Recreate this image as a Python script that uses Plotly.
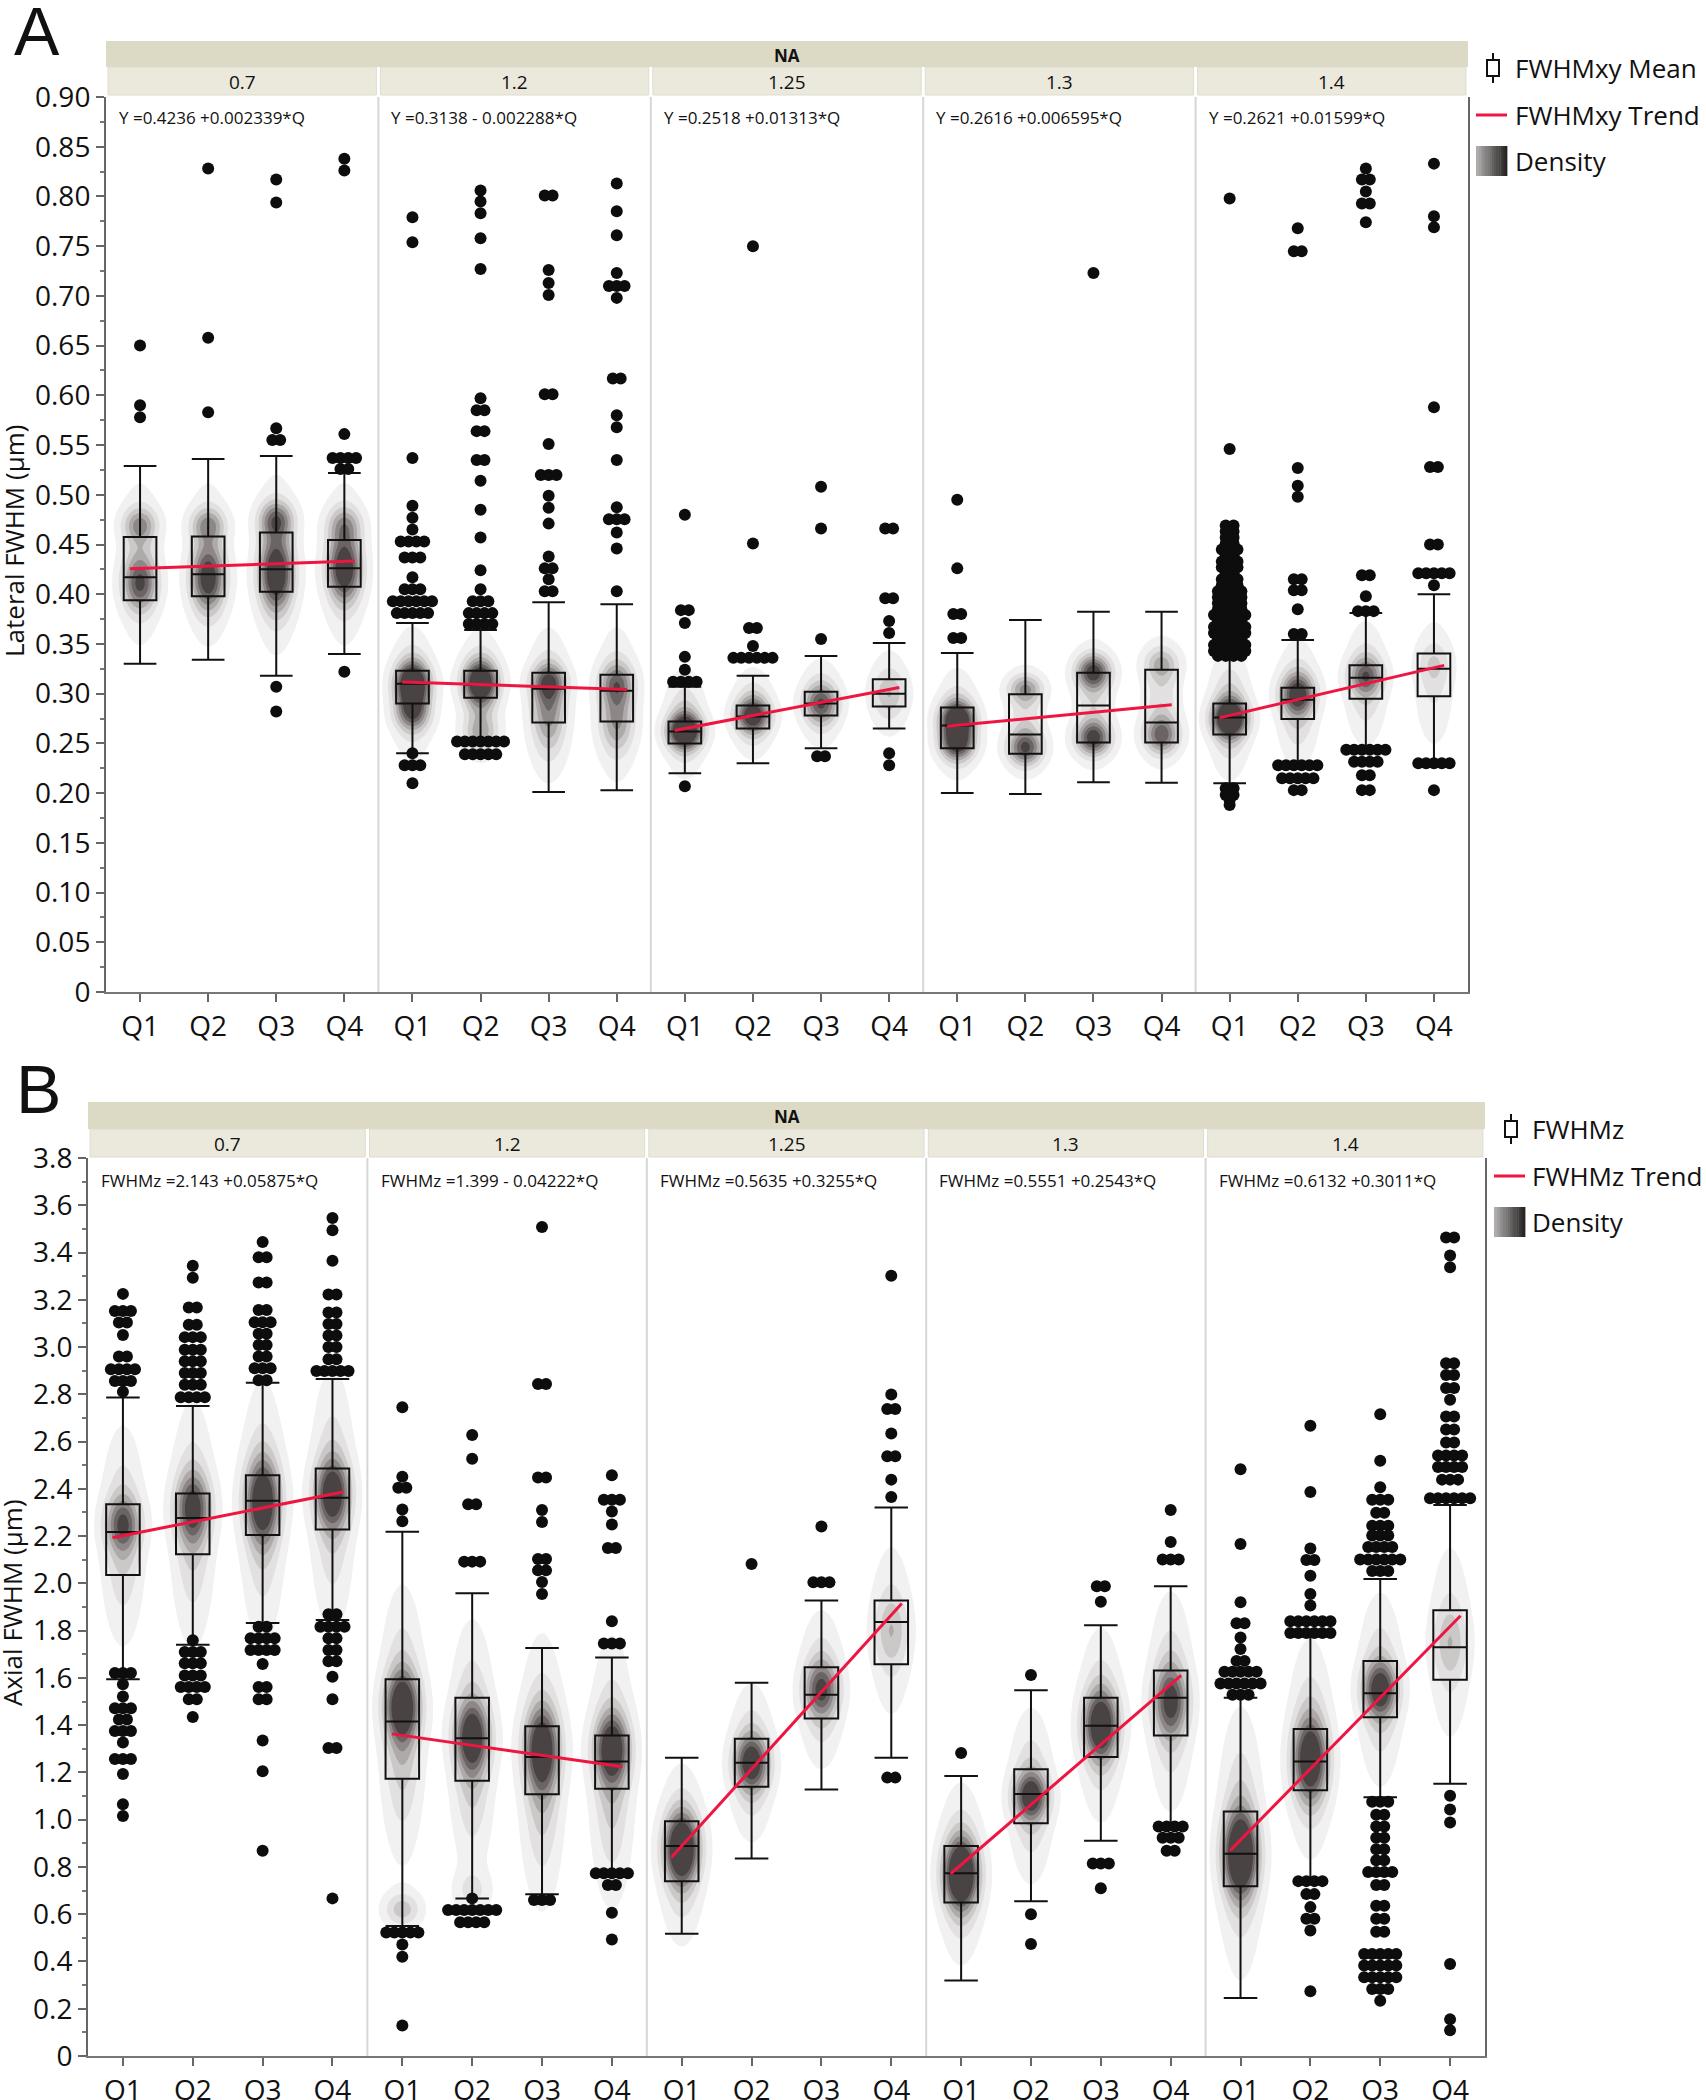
import numpy as np
import plotly.graph_objects as go

# ---------------- data ----------------
NA_LEVELS = ["0.7", "1.2", "1.25", "1.3", "1.4"]
QUARTILES = ["Q1", "Q2", "Q3", "Q4"]

# Panel A : Lateral FWHM (um), groups ordered NA x quartile
A_LOWER_Q = [0.394, 0.398, 0.4025, 0.4075, 0.290, 0.296, 0.271, 0.272, 0.250, 0.265, 0.278, 0.287,
             0.245, 0.2395, 0.251, 0.251, 0.259, 0.2745, 0.295, 0.2975]
A_MEDIAN = [0.417, 0.420, 0.425, 0.426, 0.310, 0.309, 0.305, 0.303, 0.262, 0.277, 0.290, 0.300,
            0.268, 0.259, 0.288, 0.271, 0.276, 0.294, 0.316, 0.325]
A_UPPER_Q = [0.4575, 0.458, 0.462, 0.4546, 0.323, 0.323, 0.321, 0.319, 0.272, 0.288, 0.302, 0.3145,
             0.286, 0.2995, 0.321, 0.324, 0.290, 0.306, 0.3286, 0.3405]
A_WHISK_LO = [0.330, 0.334, 0.318, 0.340, 0.240, 0.250, 0.201, 0.203, 0.220, 0.230, 0.245, 0.265,
              0.200, 0.199, 0.211, 0.2105, 0.210, 0.228, 0.2447, 0.230]
A_WHISK_HI = [0.529, 0.536, 0.539, 0.522, 0.371, 0.364, 0.392, 0.390, 0.307, 0.318, 0.338, 0.351,
              0.341, 0.374, 0.3825, 0.3825, 0.3385, 0.354, 0.381, 0.400]
A_INTERCEPT = [0.4236, 0.3138, 0.2518, 0.2616, 0.2621]
A_SLOPE = [0.002339, -0.002288, 0.01313, 0.006595, 0.01599]
A_EQUATIONS = ["Y =0.4236 +0.002339*Q", "Y =0.3138 - 0.002288*Q", "Y =0.2518 +0.01313*Q",
               "Y =0.2616 +0.006595*Q", "Y =0.2621 +0.01599*Q"]
# outliers: (value, number of dots at that value)
A_OUTLIERS = [
    [(0.65, 1), (0.59, 1), (0.578, 1)],
    [(0.828, 1), (0.658, 1), (0.583, 1)],
    [(0.817, 1), (0.794, 1), (0.567, 1), (0.555, 2), (0.307, 1), (0.282, 1)],
    [(0.838, 1), (0.826, 1), (0.561, 1), (0.537, 4), (0.526, 2), (0.322, 1)],
    [(0.779, 1), (0.754, 1), (0.537, 1), (0.489, 1), (0.477, 1), (0.465, 1), (0.453, 4), (0.437, 3),
     (0.417, 1), (0.405, 3), (0.393, 6), (0.381, 5), (0.24, 1), (0.228, 3), (0.21, 1)],
    [(0.806, 1), (0.795, 1), (0.783, 1), (0.758, 1), (0.727, 1), (0.597, 1), (0.585, 2), (0.564, 2),
     (0.535, 2), (0.514, 1), (0.485, 1), (0.457, 1), (0.424, 1), (0.405, 1), (0.393, 3), (0.381, 4),
     (0.370, 4), (0.252, 7), (0.239, 5)],
    [(0.801, 2), (0.726, 1), (0.713, 1), (0.701, 1), (0.601, 2), (0.551, 1), (0.52, 3), (0.499, 1),
     (0.487, 1), (0.471, 1), (0.438, 1), (0.426, 2), (0.415, 1), (0.403, 2)],
    [(0.813, 1), (0.785, 1), (0.761, 1), (0.723, 1), (0.710, 3), (0.698, 1), (0.617, 2), (0.580, 1),
     (0.568, 1), (0.535, 1), (0.4875, 1), (0.4755, 3), (0.462, 1), (0.446, 1), (0.403, 1)],
    [(0.480, 1), (0.384, 2), (0.371, 1), (0.337, 1), (0.324, 1), (0.312, 4), (0.207, 1)],
    [(0.750, 1), (0.451, 1), (0.366, 2), (0.348, 1), (0.336, 6)],
    [(0.508, 1), (0.466, 1), (0.355, 1), (0.237, 2)],
    [(0.466, 2), (0.396, 2), (0.373, 1), (0.361, 1), (0.240, 1), (0.228, 1)],
    [(0.495, 1), (0.426, 1), (0.380, 2), (0.356, 2)],
    [],
    [(0.723, 1)],
    [],
    [(0.798, 1), (0.546, 1), (0.469, 2), (0.463, 2), (0.457, 2), (0.451, 2), (0.445, 3), (0.439, 2),
     (0.433, 3), (0.427, 3), (0.421, 2), (0.415, 3), (0.409, 3), (0.403, 4), (0.397, 4), (0.391, 4),
     (0.385, 4), (0.379, 5), (0.373, 4), (0.367, 5), (0.361, 5), (0.355, 4), (0.349, 5), (0.343, 5),
     (0.338, 4), (0.205, 2), (0.198, 2), (0.193, 1), (0.188, 1)],
    [(0.768, 1), (0.745, 2), (0.527, 1), (0.509, 1), (0.498, 1), (0.415, 2), (0.404, 2), (0.385, 1),
     (0.360, 2), (0.228, 6), (0.215, 5), (0.203, 2)],
    [(0.828, 1), (0.817, 2), (0.805, 1), (0.793, 2), (0.774, 1), (0.419, 2), (0.398, 1), (0.383, 3),
     (0.2436, 6), (0.2315, 4), (0.218, 2), (0.203, 2)],
    [(0.833, 1), (0.780, 1), (0.769, 1), (0.588, 1), (0.528, 2), (0.450, 2), (0.421, 5), (0.409, 1),
     (0.230, 5), (0.203, 1)],
]
# density blobs: (centre, spread, strength)
A_DENSITY = [
    [(0.41, 0.018, 0.6), (0.47, 0.012, 0.45), (0.43, 0.045, 0.35)],
    [(0.415, 0.022, 0.7), (0.47, 0.012, 0.45), (0.43, 0.045, 0.35)],
    [(0.42, 0.025, 0.8), (0.475, 0.013, 0.6), (0.43, 0.05, 0.35)],
    [(0.425, 0.022, 0.75), (0.47, 0.013, 0.4), (0.43, 0.045, 0.35)],
    [(0.31, 0.015, 0.95), (0.28, 0.012, 0.5), (0.30, 0.035, 0.45)],
    [(0.312, 0.015, 0.9), (0.26, 0.012, 0.35), (0.30, 0.035, 0.4)],
    [(0.312, 0.012, 0.5), (0.285, 0.03, 0.45), (0.29, 0.045, 0.25)],
    [(0.31, 0.015, 0.55), (0.27, 0.02, 0.35), (0.29, 0.045, 0.3)],
    [(0.262, 0.012, 1.0), (0.27, 0.03, 0.4)],
    [(0.278, 0.012, 0.7), (0.28, 0.025, 0.4)],
    [(0.29, 0.013, 0.55), (0.29, 0.025, 0.35)],
    [(0.30, 0.015, 0.25), (0.30, 0.028, 0.22)],
    [(0.275, 0.012, 0.85), (0.25, 0.012, 0.75), (0.27, 0.03, 0.4)],
    [(0.305, 0.01, 0.5), (0.245, 0.012, 0.7), (0.27, 0.03, 0.3)],
    [(0.322, 0.012, 0.8), (0.255, 0.012, 0.8), (0.29, 0.035, 0.3)],
    [(0.33, 0.012, 0.4), (0.258, 0.013, 0.65), (0.29, 0.035, 0.3)],
    [(0.275, 0.013, 1.0), (0.28, 0.035, 0.45)],
    [(0.30, 0.014, 0.7), (0.29, 0.035, 0.4)],
    [(0.318, 0.013, 0.55), (0.31, 0.035, 0.35)],
    [(0.33, 0.015, 0.18), (0.31, 0.04, 0.22)],
]

# Panel B : Axial FWHM (um)
B_LOWER_Q = [2.035, 2.123, 2.205, 2.228, 1.173, 1.165, 1.108, 1.131, 0.740, 1.139, 1.428, 1.658,
             0.650, 0.985, 1.265, 1.356, 0.718, 1.125, 1.433, 1.592]
B_MEDIAN = [2.217, 2.277, 2.350, 2.362, 1.416, 1.345, 1.265, 1.246, 0.889, 1.241, 1.529, 1.837,
            0.773, 1.109, 1.397, 1.516, 0.856, 1.246, 1.535, 1.730]
B_UPPER_Q = [2.335, 2.380, 2.458, 2.486, 1.594, 1.516, 1.395, 1.356, 0.993, 1.343, 1.645, 1.928,
             0.889, 1.213, 1.516, 1.631, 1.035, 1.384, 1.672, 1.886]
B_WHISK_LO = [1.594, 1.740, 1.832, 1.845, 0.550, 0.667, 0.684, 0.773, 0.517, 0.836, 1.128, 1.262,
              0.320, 0.655, 0.911, 0.971, 0.245, 0.740, 1.095, 1.152]
B_WHISK_HI = [2.786, 2.751, 2.849, 2.865, 2.218, 1.958, 1.726, 1.686, 1.262, 1.579, 1.928, 2.321,
              1.185, 1.548, 1.823, 1.988, 1.516, 1.776, 2.018, 2.332]
B_INTERCEPT = [2.143, 1.399, 0.5635, 0.5551, 0.6132]
B_SLOPE = [0.05875, -0.04222, 0.3255, 0.2543, 0.3011]
B_EQUATIONS = ["FWHMz =2.143 +0.05875*Q", "FWHMz =1.399 - 0.04222*Q", "FWHMz =0.5635 +0.3255*Q",
               "FWHMz =0.5551 +0.2543*Q", "FWHMz =0.6132 +0.3011*Q"]
B_OUTLIERS = [
    [(3.225, 1), (3.153, 3), (3.104, 2), (3.051, 1), (2.96, 2), (2.906, 4), (2.856, 3), (2.811, 1),
     (1.621, 3), (1.573, 1), (1.521, 1), (1.472, 3), (1.424, 2), (1.375, 3), (1.327, 1), (1.257, 3),
     (1.193, 1), (1.065, 1), (1.016, 1)],
    [(3.344, 1), (3.293, 1), (3.167, 2), (3.094, 2), (3.042, 3), (2.989, 3), (2.94, 3), (2.89, 3),
     (2.84, 3), (2.788, 4), (1.759, 1), (1.71, 3), (1.662, 3), (1.61, 3), (1.561, 4), (1.51, 2), (1.435, 1)],
    [(3.445, 1), (3.38, 2), (3.273, 2), (3.157, 2), (3.105, 3), (3.056, 2), (3.009, 2), (2.96, 2),
     (2.91, 3), (2.86, 2), (1.816, 2), (1.768, 4), (1.718, 4), (1.659, 1), (1.561, 2), (1.51, 2),
     (1.335, 1), (1.205, 1), (0.869, 1)],
    [(3.546, 1), (3.494, 1), (3.365, 1), (3.222, 2), (3.146, 2), (3.098, 2), (3.049, 2), (3.0, 2),
     (2.948, 2), (2.899, 5), (1.869, 2), (1.816, 4), (1.768, 2), (1.718, 2), (1.67, 2), (1.605, 1),
     (1.51, 1), (1.303, 2), (0.667, 1)],
    [(2.745, 1), (2.451, 1), (2.405, 2), (2.313, 1), (2.263, 1), (0.523, 5), (0.472, 1), (0.42, 1), (0.129, 1)],
    [(2.628, 1), (2.527, 1), (2.335, 2), (2.092, 3), (0.667, 1), (0.618, 7), (0.566, 4)],
    [(3.508, 1), (2.844, 2), (2.448, 2), (2.31, 1), (2.26, 1), (2.103, 2), (2.055, 2), (2.006, 1),
     (1.955, 1), (0.66, 3)],
    [(2.458, 1), (2.354, 3), (2.304, 1), (2.249, 1), (2.150, 2), (1.840, 1), (1.746, 3), (0.773, 5),
     (0.724, 2), (0.606, 1), (0.493, 1)],
    [],
    [(2.082, 1)],
    [(2.241, 1), (2.005, 3)],
    [(3.302, 1), (2.799, 1), (2.738, 2), (2.634, 1), (2.538, 2), (2.439, 1), (2.365, 1), (1.178, 2)],
    [(1.282, 1)],
    [(1.612, 1), (0.600, 1), (0.474, 1)],
    [(1.988, 2), (1.922, 1), (0.815, 3), (0.710, 1)],
    [(2.31, 1), (2.175, 1), (2.101, 3), (0.971, 4), (0.924, 3), (0.869, 2)],
    [(2.483, 1), (2.167, 1), (1.92, 1), (1.831, 2), (1.771, 1), (1.722, 1), (1.672, 2), (1.626, 5),
     (1.576, 6), (1.529, 3)],
    [(2.667, 1), (2.387, 1), (2.148, 1), (2.099, 2), (2.032, 1), (1.955, 1), (1.906, 1), (1.84, 6),
     (1.79, 6), (0.74, 4), (0.685, 2), (0.63, 1), (0.581, 2), (0.531, 1), (0.274, 1)],
    [(2.716, 1), (2.519, 1), (2.407, 1), (2.354, 3), (2.299, 2), (2.244, 3), (2.203, 3), (2.154, 4),
     (2.101, 6), (2.052, 3), (1.076, 3), (1.021, 2), (0.971, 2), (0.924, 2), (0.875, 2), (0.828, 2),
     (0.779, 4), (0.724, 2), (0.636, 2), (0.581, 2), (0.526, 2), (0.432, 5), (0.383, 5), (0.333, 5),
     (0.284, 3), (0.234, 1)],
    [(3.464, 2), (3.387, 1), (3.338, 1), (2.931, 2), (2.882, 2), (2.827, 2), (2.777, 1), (2.706, 2),
     (2.651, 2), (2.596, 2), (2.541, 4), (2.492, 4), (2.439, 3), (2.36, 6), (1.101, 1), (1.043, 1),
     (0.988, 1), (0.389, 1), (0.155, 1), (0.109, 1)],
]
B_DENSITY = [
    [(2.25, 0.08, 0.55), (2.2, 0.25, 0.4)],
    [(2.32, 0.1, 0.65), (2.25, 0.28, 0.4)],
    [(2.35, 0.12, 0.8), (2.3, 0.3, 0.4)],
    [(2.38, 0.1, 0.75), (2.35, 0.3, 0.4)],
    [(1.48, 0.1, 0.75), (1.4, 0.3, 0.5), (0.62, 0.05, 0.4)],
    [(1.35, 0.1, 0.7), (1.3, 0.28, 0.48), (0.7, 0.06, 0.22)],
    [(1.3, 0.12, 0.75), (1.2, 0.3, 0.48)],
    [(1.3, 0.1, 0.78), (1.2, 0.3, 0.45)],
    [(0.88, 0.1, 0.9), (0.85, 0.2, 0.45)],
    [(1.24, 0.08, 0.7), (1.24, 0.18, 0.4)],
    [(1.55, 0.08, 0.55), (1.55, 0.18, 0.4)],
    [(1.8, 0.1, 0.22), (1.8, 0.22, 0.25)],
    [(0.77, 0.1, 0.95), (0.77, 0.2, 0.45)],
    [(1.1, 0.07, 0.7), (1.1, 0.2, 0.4)],
    [(1.4, 0.1, 0.8), (1.4, 0.22, 0.4)],
    [(1.5, 0.1, 0.6), (1.5, 0.25, 0.4)],
    [(0.85, 0.12, 0.95), (0.9, 0.3, 0.45)],
    [(1.25, 0.12, 0.8), (1.3, 0.25, 0.4)],
    [(1.55, 0.08, 0.7), (1.55, 0.22, 0.4)],
    [(1.75, 0.1, 0.22), (1.75, 0.25, 0.25)],
]

A_TICKS = [round(0.05 * i, 2) for i in range(19)]
B_TICKS = [round(0.2 * i, 1) for i in range(20)]

# ---------------- style ----------------
W, H = 1706, 2100
FONT = "Open Sans"
RED = "#ee1540"
DOT_STEP = 0.115
DENS_SX = 0.18
DENS_COLORS = ["rgba(255,255,255,0)", "#f1f1f1", "#e2e0e0", "#cbc8c8", "#aeaaaa",
               "#8d8787", "#6b6464", "#4a4343"]
DENS_SCALE = [[k / 7, c] for k, c in enumerate(DENS_COLORS)]


def px(x):
    return x / W


def py(y):
    return 1 - y / H


n_fac, n_q = len(NA_LEVELS), len(QUARTILES)
positions = [f * n_q + q + 1 for f in range(n_fac) for q in range(n_q)]

fig = go.Figure()


def density_trace(dens, ylo, yhi, xa, ya):
    xs = np.linspace(0.5, n_fac * n_q + 0.5, 481)
    ys = np.linspace(ylo, yhi, 320)
    Z = np.zeros((ys.size, xs.size))
    for g, blobs in enumerate(dens):
        gx = np.exp(-0.5 * ((xs - positions[g]) / DENS_SX) ** 2)
        for c, s, w in blobs:
            Z += w * np.outer(np.exp(-0.5 * ((ys - c) / s) ** 2), gx)
    return go.Contour(x=np.round(xs, 4), y=np.round(ys, 4), z=np.round(Z, 3), xaxis=xa, yaxis=ya,
                      contours=dict(start=0.07, end=0.85, size=0.13, coloring="fill", showlines=False),
                      colorscale=DENS_SCALE, showscale=False, line=dict(width=0),
                      hoverinfo="skip", showlegend=False)


def add_panel(lq, med, uq, wlo, whi, icpt, slope, outl, dens, ylo, yhi, xa, ya):
    fig.add_trace(density_trace(dens, ylo, yhi, xa, ya))
    fig.add_trace(go.Box(x=positions, q1=lq, median=med, q3=uq, lowerfence=wlo, upperfence=whi,
                         width=0.48, whiskerwidth=1, fillcolor="rgba(255,255,255,0)",
                         line=dict(color="#111111", width=2), boxpoints=False,
                         showlegend=False, hoverinfo="skip", xaxis=xa, yaxis=ya))
    for f in range(n_fac):
        qs = np.array([0.85, 4.15])
        fig.add_trace(go.Scatter(x=f * n_q + qs, y=icpt[f] + slope[f] * qs, mode="lines",
                                 line=dict(color=RED, width=3), showlegend=False,
                                 hoverinfo="skip", xaxis=xa, yaxis=ya))
    dx, dy = [], []
    for g, pts in enumerate(outl):
        for v, n in pts:
            for i in range(n):
                dx.append(positions[g] + (i - (n - 1) / 2) * DOT_STEP)
                dy.append(v)
    fig.add_trace(go.Scatter(x=dx, y=dy, mode="markers",
                             marker=dict(size=12, color="#0d0d0d", line=dict(width=0)),
                             showlegend=False, hoverinfo="skip", xaxis=xa, yaxis=ya))


add_panel(A_LOWER_Q, A_MEDIAN, A_UPPER_Q, A_WHISK_LO, A_WHISK_HI, A_INTERCEPT, A_SLOPE,
          A_OUTLIERS, A_DENSITY, 0.15, 0.62, "x", "y")
add_panel(B_LOWER_Q, B_MEDIAN, B_UPPER_Q, B_WHISK_LO, B_WHISK_HI, B_INTERCEPT, B_SLOPE,
          B_OUTLIERS, B_DENSITY, 0.05, 3.2, "x2", "y2")

tickfont = dict(family=FONT, size=28, color="#111111")
xcommon = dict(range=[0.5, n_fac * n_q + 0.5], tickmode="array", tickvals=positions,
               ticktext=QUARTILES * n_fac, ticks="outside", ticklen=8, tickwidth=1.5,
               tickcolor="#666666", showline=True, linecolor="#777777", linewidth=2,
               showgrid=False, zeroline=False, tickfont=tickfont, fixedrange=True,
               automargin=False)


def ycommon(ticks, labels, minor_vals, rng):
    return dict(range=rng, tickmode="array", tickvals=ticks, ticktext=labels, ticks="outside",
                ticklen=8, tickwidth=1.5, tickcolor="#666666", showline=True, mirror=True,
                linecolor="#666666", linewidth=2, showgrid=False, zeroline=False,
                tickfont=tickfont, fixedrange=True, automargin=False,
                minor=dict(tickvals=minor_vals, ticks="outside", ticklen=4, tickcolor="#777777",
                           showgrid=False))


A_LABELS = ["0"] + ["%.2f" % t for t in A_TICKS[1:]]
B_LABELS = ["0"] + ["%.1f" % t for t in B_TICKS[1:]]
A_MINOR = [round(t + 0.025, 3) for t in A_TICKS[:-1]]
B_MINOR = [round(t + 0.1, 2) for t in B_TICKS[:-1]]

fig.update_layout(
    width=W, height=H, margin=dict(l=0, r=0, t=0, b=0, pad=0, autoexpand=False),
    paper_bgcolor="white", plot_bgcolor="white", showlegend=False,
    xaxis=dict(domain=[px(106), px(1468)], anchor="y", **xcommon),
    yaxis=dict(domain=[py(992), py(97)], anchor="x",
               **ycommon(A_TICKS, A_LABELS, A_MINOR, [0, 0.9])),
    xaxis2=dict(domain=[px(88), px(1485)], anchor="y2", **xcommon),
    yaxis2=dict(domain=[py(2056), py(1158)], anchor="x2",
                **ycommon(B_TICKS, B_LABELS, B_MINOR, [0, 3.8])),
)

shapes, annos = [], []


def text(xref, x, y, s, size, xanchor="center", angle=0, family=FONT):
    annos.append(dict(xref=xref, yref="paper", x=x, y=py(y), text=s, showarrow=False,
                      xanchor=xanchor, yanchor="middle", textangle=angle,
                      font=dict(family=family, size=size, color="#111")))


def headers(xref, top, mid, bot, eq_y, equations, xpref):
    shapes.append(dict(type="rect", xref=xref, yref="paper", x0=0.5, x1=n_fac * n_q + 0.5,
                       y0=py(mid), y1=py(top), fillcolor="#dcd9c5", line=dict(width=0), layer="above"))
    text(xref, (n_fac * n_q + 1) / 2, (top + mid) / 2 + 1, "<b>NA</b>", 17)
    for f in range(n_fac):
        x0, x1 = f * n_q + 0.5, f * n_q + n_q + 0.5
        shapes.append(dict(type="rect", xref=xref, yref="paper", x0=x0 + 0.03, x1=x1 - 0.03,
                           y0=py(bot), y1=py(mid), fillcolor="#ebe9dc",
                           line=dict(width=1, color="#dedcd0"), layer="above"))
        text(xref, (x0 + x1) / 2, (mid + bot) / 2 + 1, NA_LEVELS[f], 19)
        text(xref, x0 + xpref, eq_y, equations[f], 17, xanchor="left")
        if f > 0:
            shapes.append(dict(type="line", xref=xref, yref=xref.replace("x", "y") + " domain",
                               x0=x0, x1=x0, y0=0, y1=1, line=dict(color="#d6d6d6", width=2),
                               layer="below"))


headers("x", 41, 67, 95, 117, A_EQUATIONS, 0.16)
headers("x2", 1102, 1129, 1157, 1180, B_EQUATIONS, 0.16)

# panel letters and axis titles
text("paper", px(37), 31, "A", 68, family="Liberation Sans")
text("paper", px(38), 1089, "B", 68, family="Liberation Sans")
text("paper", px(14), 541, "Lateral FWHM (μm)", 26, angle=-90)
text("paper", px(12), 1603, "Axial FWHM (μm)", 26, angle=-90)


def legend(xline0, xicon, xtext, ys, labels):
    y1, y2, y3 = ys
    # box icon
    shapes.append(dict(type="rect", xref="paper", yref="paper", x0=px(xicon - 6), x1=px(xicon + 6),
                       y0=py(y1 + 8), y1=py(y1 - 8), line=dict(color="#111", width=2),
                       fillcolor="white"))
    shapes.append(dict(type="line", xref="paper", yref="paper", x0=px(xicon), x1=px(xicon),
                       y0=py(y1 - 8), y1=py(y1 - 15), line=dict(color="#111", width=2)))
    shapes.append(dict(type="line", xref="paper", yref="paper", x0=px(xicon), x1=px(xicon),
                       y0=py(y1 + 8), y1=py(y1 + 15), line=dict(color="#111", width=2)))
    # trend line
    shapes.append(dict(type="line", xref="paper", yref="paper", x0=px(xline0), x1=px(xline0 + 31),
                       y0=py(y2), y1=py(y2), line=dict(color=RED, width=3)))
    # density gradient swatch
    nseg = 14
    for i in range(nseg):
        v = int(175 - (175 - 40) * i / (nseg - 1))
        shapes.append(dict(type="rect", xref="paper", yref="paper",
                           x0=px(xline0 + 31 * i / nseg), x1=px(xline0 + 31 * (i + 1) / nseg + 0.4),
                           y0=py(y3 + 15), y1=py(y3 - 15), line=dict(width=0),
                           fillcolor="rgb(%d,%d,%d)" % (v, v - 3, v - 3)))
    for yy, lab in zip(ys, labels):
        text("paper", px(xtext), yy, lab, 26, xanchor="left")


legend(1476, 1493, 1513, (68, 115, 161), ["FWHMxy Mean", "FWHMxy Trend", "Density"])
legend(1494, 1511, 1530, (1129, 1176, 1222), ["FWHMz", "FWHMz Trend", "Density"])

fig.update_layout(shapes=shapes, annotations=annos)
fig.write_html("out.html", config={"displayModeBar": False},
               post_script="document.body.style.margin='0px';")
